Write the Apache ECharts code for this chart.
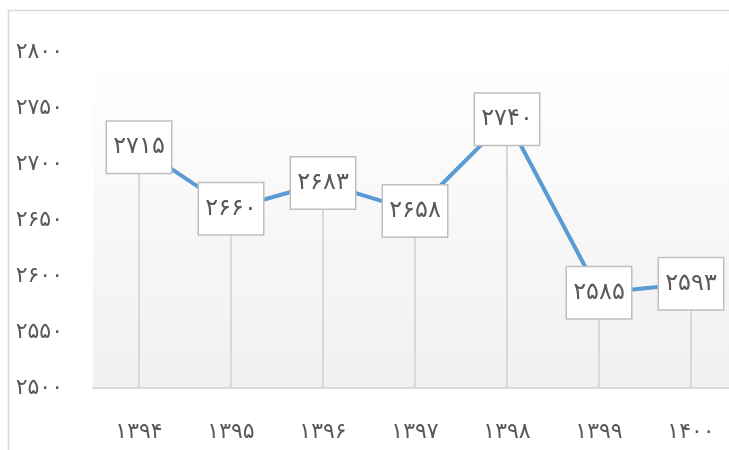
<!DOCTYPE html>
<html>
<head>
<meta charset="utf-8">
<script src="https://cdn.jsdelivr.net/npm/echarts@6/dist/echarts.min.js"></script>
<style>html,body{margin:0;padding:0;background:#fff;overflow:hidden;width:729px;height:450px;}#c{width:745px;height:450px;}</style>
</head>
<body>
<div id="c"></div>
<script>
var categories = ['۱۳۹۴', '۱۳۹۵', '۱۳۹۶', '۱۳۹۷', '۱۳۹۸', '۱۳۹۹', '۱۴۰۰'];
var values = [2715, 2660, 2683, 2658, 2740, 2585, 2593];
var yMin = 2500, yMax = 2800, yStep = 50;

var faDigits = '۰۱۲۳۴۵۶۷۸۹';
function toFa(n) { return String(n).replace(/[0-9]/g, function (d) { return faDigits[+d]; }); }

var chart = echarts.init(document.getElementById('c'));
chart.setOption({
  animation: false,
  backgroundColor: '#ffffff',
  graphic: [{
    type: 'rect', shape: { x: 8.5, y: 10.5, width: 760, height: 460 },
    style: { fill: 'none', stroke: '#d9d9d9', lineWidth: 1.5 }, silent: true, z: -1
  }],
  grid: {
    left: 93, top: 52, width: 644, height: 336, show: true, borderWidth: 0,
    backgroundColor: new echarts.graphic.LinearGradient(0, 0, 0, 1, [
      { offset: 0, color: '#ffffff' }, { offset: 1, color: '#f0f0f0' }
    ])
  },
  xAxis: {
    type: 'category', data: categories, boundaryGap: true,
    axisLine: { lineStyle: { color: '#d9d9d9', width: 2 } },
    axisTick: { show: false },
    axisLabel: { margin: 33, color: '#595959', fontSize: 22, fontFamily: 'DejaVu Sans' }
  },
  yAxis: {
    type: 'value', min: yMin, max: yMax, interval: yStep,
    axisLine: { show: false }, axisTick: { show: false }, splitLine: { show: false },
    axisLabel: { margin: 30, color: '#595959', fontSize: 22, fontFamily: 'DejaVu Sans', formatter: function (v) { return toFa(v); } }
  },
  series: [{
    type: 'bar', data: values, barWidth: 2, silent: true, z: 1,
    itemStyle: { color: '#d9d9d9' }
  }, {
    type: 'line', data: values, z: 3, symbol: 'circle', symbolSize: 1, showSymbol: true,
    itemStyle: { color: '#5b9bd5' },
    lineStyle: { color: '#5b9bd5', width: 4 },
    label: {
      show: true, position: 'inside',
      formatter: function (p) { return toFa(p.value); },
      backgroundColor: '#ffffff', borderColor: '#bfbfbf', borderWidth: 1.5,
      width: 64, height: 51, lineHeight: 51, align: 'center', verticalAlign: 'middle',
      color: '#595959', fontSize: 24, fontFamily: 'DejaVu Sans', padding: 0
    }
  }]
});
</script>
</body>
</html>
